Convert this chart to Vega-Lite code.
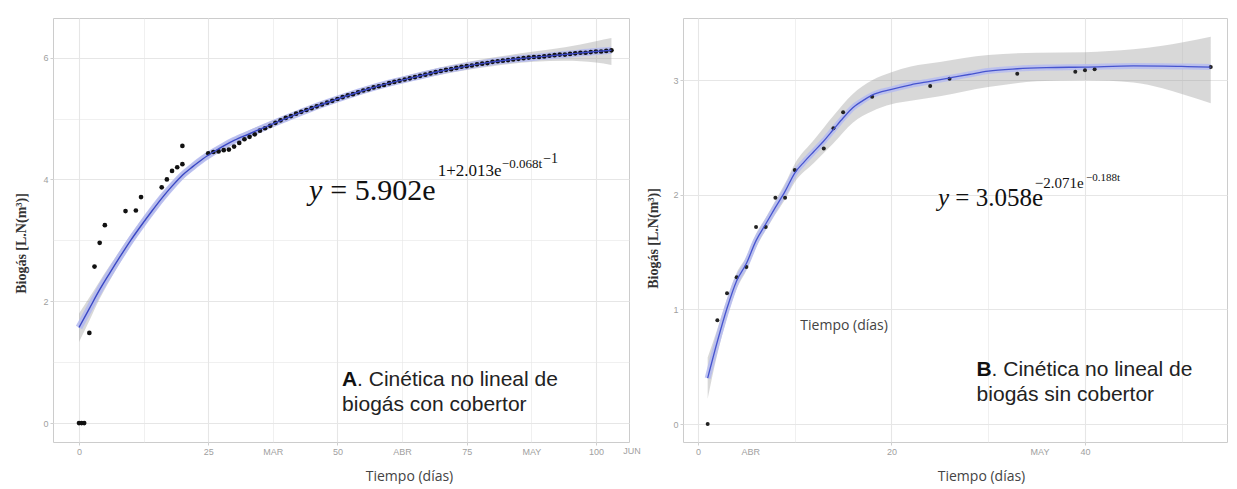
{
  "$schema": "https://vega.github.io/schema/vega-lite/v6.json",
  "background": "white",
  "padding": {"left": 13, "top": 17, "right": 0, "bottom": 0},
  "spacing": 3,
  "datasets": {
    "pointsA": [
      {"t":0,"v":0},{"t":0.5,"v":0},{"t":1,"v":0},{"t":2,"v":1.48},{"t":3,"v":2.57},{"t":4,"v":2.96},{"t":5,"v":3.25},
      {"t":9,"v":3.48},{"t":11,"v":3.49},{"t":12,"v":3.71},{"t":16,"v":3.87},{"t":17,"v":4.0},{"t":18,"v":4.14},{"t":19,"v":4.2},
      {"t":20,"v":4.25},{"t":20,"v":4.55},
      {"t":25,"v":4.43},{"t":26,"v":4.45},{"t":27,"v":4.46},{"t":28,"v":4.48},{"t":29,"v":4.49},{"t":30,"v":4.54},{"t":31,"v":4.6},
      {"t":32,"v":4.66},{"t":33,"v":4.7},{"t":34,"v":4.74},{"t":35,"v":4.8},{"t":36,"v":4.84},{"t":37,"v":4.88},{"t":38,"v":4.93},
      {"t":39,"v":4.97},{"t":40,"v":5.01},{"t":41,"v":5.04},{"t":42,"v":5.08},{"t":43,"v":5.11},{"t":44,"v":5.14},{"t":45,"v":5.17},
      {"t":46,"v":5.2},{"t":47,"v":5.23},{"t":48,"v":5.26},{"t":49,"v":5.29},{"t":50,"v":5.32},{"t":51,"v":5.35},{"t":52,"v":5.38},
      {"t":53,"v":5.4},{"t":54,"v":5.43},{"t":55,"v":5.46},{"t":56,"v":5.48},{"t":57,"v":5.51},{"t":58,"v":5.53},{"t":59,"v":5.55},
      {"t":60,"v":5.58},{"t":61,"v":5.6},{"t":62,"v":5.62},{"t":63,"v":5.64},{"t":64,"v":5.66},{"t":65,"v":5.68},{"t":66,"v":5.7},
      {"t":67,"v":5.72},{"t":68,"v":5.74},{"t":69,"v":5.76},{"t":70,"v":5.78},{"t":71,"v":5.8},{"t":72,"v":5.81},{"t":73,"v":5.83},
      {"t":74,"v":5.85},{"t":75,"v":5.86},{"t":76,"v":5.87},{"t":77,"v":5.89},{"t":78,"v":5.9},{"t":79,"v":5.91},{"t":80,"v":5.93},
      {"t":81,"v":5.94},{"t":82,"v":5.95},{"t":83,"v":5.96},{"t":84,"v":5.97},{"t":85,"v":5.98},{"t":86,"v":5.99},{"t":87,"v":6.0},
      {"t":88,"v":6.01},{"t":89,"v":6.01},{"t":90,"v":6.02},{"t":91,"v":6.03},{"t":92,"v":6.04},{"t":93,"v":6.05},{"t":94,"v":6.05},
      {"t":95,"v":6.06},{"t":96,"v":6.07},{"t":97,"v":6.08},{"t":98,"v":6.08},{"t":99,"v":6.09},{"t":100,"v":6.1},{"t":101,"v":6.1},
      {"t":102,"v":6.11},{"t":103,"v":6.12}
    ],
    "lineA": [
      {"t":0,"v":1.57},{"t":2,"v":1.88},{"t":4,"v":2.19},{"t":6,"v":2.47},{"t":8,"v":2.74},{"t":10,"v":3.0},{"t":12,"v":3.24},
      {"t":14,"v":3.47},{"t":16,"v":3.69},{"t":18,"v":3.89},{"t":20,"v":4.07},{"t":22,"v":4.21},{"t":24,"v":4.34},{"t":26,"v":4.45},
      {"t":28,"v":4.55},{"t":30,"v":4.64},{"t":33,"v":4.75},{"t":36,"v":4.86},{"t":40,"v":5.0},{"t":45,"v":5.17},{"t":50,"v":5.32},
      {"t":55,"v":5.46},{"t":60,"v":5.58},{"t":65,"v":5.68},{"t":70,"v":5.78},{"t":75,"v":5.86},{"t":80,"v":5.93},{"t":85,"v":5.98},
      {"t":90,"v":6.02},{"t":95,"v":6.06},{"t":100,"v":6.1},{"t":103,"v":6.12}
    ],
    "bandA": [
      {"t":0,"lo":1.33,"hi":1.8},{"t":2,"lo":1.68,"hi":2.06},{"t":4,"lo":2.04,"hi":2.33},{"t":6,"lo":2.35,"hi":2.59},
      {"t":8,"lo":2.64,"hi":2.84},{"t":10,"lo":2.91,"hi":3.09},{"t":14,"lo":3.39,"hi":3.55},{"t":18,"lo":3.82,"hi":3.96},
      {"t":22,"lo":4.15,"hi":4.27},{"t":26,"lo":4.4,"hi":4.5},{"t":30,"lo":4.59,"hi":4.69},{"t":40,"lo":4.95,"hi":5.05},
      {"t":50,"lo":5.27,"hi":5.37},{"t":60,"lo":5.53,"hi":5.63},{"t":70,"lo":5.72,"hi":5.84},{"t":80,"lo":5.86,"hi":6.0},
      {"t":88,"lo":5.93,"hi":6.1},{"t":94,"lo":5.95,"hi":6.17},{"t":100,"lo":5.92,"hi":6.27},{"t":103,"lo":5.88,"hi":6.32}
    ],
    "pointsB": [
      {"t":1,"v":0.0},{"t":2,"v":0.905},{"t":3,"v":1.14},{"t":4,"v":1.28},{"t":5,"v":1.37},{"t":6,"v":1.72},{"t":7,"v":1.72},
      {"t":8,"v":1.975},{"t":9,"v":1.975},{"t":10,"v":2.216},{"t":13,"v":2.405},{"t":14,"v":2.58},{"t":15,"v":2.72},
      {"t":18,"v":2.856},{"t":24,"v":2.95},{"t":26,"v":3.013},{"t":33,"v":3.057},{"t":39,"v":3.074},{"t":40,"v":3.086},
      {"t":41,"v":3.095},{"t":53,"v":3.115}
    ],
    "lineB": [
      {"t":1,"v":0.4},{"t":2,"v":0.72},{"t":3,"v":1.01},{"t":4,"v":1.25},{"t":5,"v":1.4},{"t":6,"v":1.6},{"t":7,"v":1.745},
      {"t":8,"v":1.89},{"t":9,"v":2.03},{"t":10,"v":2.19},{"t":11,"v":2.29},{"t":12,"v":2.38},{"t":13,"v":2.47},{"t":14,"v":2.57},
      {"t":15,"v":2.67},{"t":16,"v":2.76},{"t":17,"v":2.82},{"t":18,"v":2.87},{"t":20,"v":2.92},{"t":22,"v":2.96},{"t":24,"v":2.99},
      {"t":26,"v":3.02},{"t":28,"v":3.05},{"t":30,"v":3.08},{"t":33,"v":3.1},{"t":36,"v":3.11},{"t":40,"v":3.115},{"t":45,"v":3.125},
      {"t":50,"v":3.12},{"t":53,"v":3.115}
    ],
    "bandB": [
      {"t":1,"lo":0.22,"hi":0.58},{"t":2,"lo":0.61,"hi":0.83},{"t":3,"lo":0.93,"hi":1.09},{"t":4,"lo":1.18,"hi":1.32},
      {"t":5,"lo":1.34,"hi":1.46},{"t":6,"lo":1.54,"hi":1.66},{"t":7,"lo":1.69,"hi":1.8},{"t":8,"lo":1.83,"hi":1.95},
      {"t":9,"lo":1.96,"hi":2.1},{"t":10,"lo":2.11,"hi":2.27},{"t":12,"lo":2.28,"hi":2.48},{"t":14,"lo":2.45,"hi":2.69},
      {"t":16,"lo":2.63,"hi":2.88},{"t":18,"lo":2.73,"hi":3.0},{"t":20,"lo":2.79,"hi":3.07},{"t":22,"lo":2.82,"hi":3.12},
      {"t":25,"lo":2.86,"hi":3.16},{"t":30,"lo":2.94,"hi":3.22},{"t":35,"lo":2.99,"hi":3.24},{"t":40,"lo":3.0,"hi":3.245},
      {"t":45,"lo":2.98,"hi":3.27},{"t":48,"lo":2.93,"hi":3.3},{"t":50,"lo":2.88,"hi":3.33},{"t":53,"lo":2.8,"hi":3.38}
    ]
  },
  "hconcat": [
    {
      "width": 576,
      "height": 424,
      "layer": [
        {
          "data": {"name": "pointsA"},
          "mark": {"type": "circle", "opacity": 0, "size": 1},
          "encoding": {
            "x": {"field": "t", "type": "quantitative", "scale": {"domain": [-5.03, 106.4], "nice": false, "zero": false},
              "axis": {
                "values": [0, 12.5, 25, 37.5, 50, 62.5, 75, 87.5, 100],
                "labelExpr": "datum.value == 37.5 ? 'MAR' : datum.value == 62.5 ? 'ABR' : datum.value == 87.5 ? 'MAY' : datum.value == 12.5 ? '' : datum.label",
                "gridWidth": {"condition": {"test": "datum.value % 25 == 0", "value": 1.1}, "value": 0.6},
                "tickOpacity": {"condition": {"test": "datum.value % 25 == 0", "value": 1}, "value": 0},
                "labelFlush": false, "labelOverlap": false,
                "title": "Tiempo (días)", "titleX": 356, "titleY": 34, "titleBaseline": "middle", "titleAlign": "center"
              }
            },
            "y": {"field": "v", "type": "quantitative", "scale": {"domain": [-0.31, 6.65], "nice": false, "zero": false},
              "axis": {
                "values": [0, 1, 2, 3, 4, 5, 6],
                "format": "d",
                "labelExpr": "datum.value % 2 == 0 ? datum.label : ''",
                "gridWidth": {"condition": {"test": "datum.value % 2 == 0", "value": 1.1}, "value": 0.6},
                "tickOpacity": {"condition": {"test": "datum.value % 2 == 0", "value": 1}, "value": 0},
                "labelOverlap": false,
                "title": "Biogás [L.N(m³)]", "titleX": -32, "titleY": 225, "titleBaseline": "middle", "titleAlign": "center"
              }
            }
          }
        },
        {
          "data": {"name": "bandA"},
          "mark": {"type": "area", "color": "#999999", "opacity": 0.38, "interpolate": "monotone"},
          "encoding": {
            "x": {"field": "t", "type": "quantitative", "scale": {"domain": [-5.03, 106.4], "nice": false, "zero": false}},
            "y": {"field": "lo", "type": "quantitative", "scale": {"domain": [-0.31, 6.65], "nice": false, "zero": false}},
            "y2": {"field": "hi"}
          }
        },
        {
          "data": {"name": "lineA"},
          "mark": {"type": "line", "color": "#b3b9f0", "strokeWidth": 7, "opacity": 0.85, "interpolate": "monotone"},
          "encoding": {
            "x": {"field": "t", "type": "quantitative", "scale": {"domain": [-5.03, 106.4], "nice": false, "zero": false}},
            "y": {"field": "v", "type": "quantitative", "scale": {"domain": [-0.31, 6.65], "nice": false, "zero": false}}
          }
        },
        {
          "data": {"name": "pointsA"},
          "mark": {"type": "circle", "color": "#111111", "opacity": 1, "size": 22},
          "encoding": {
            "x": {"field": "t", "type": "quantitative", "scale": {"domain": [-5.03, 106.4], "nice": false, "zero": false}},
            "y": {"field": "v", "type": "quantitative", "scale": {"domain": [-0.31, 6.65], "nice": false, "zero": false}}
          }
        },
        {
          "data": {"name": "lineA"},
          "mark": {"type": "line", "color": "#3a48c4", "strokeWidth": 1.4, "interpolate": "monotone"},
          "encoding": {
            "x": {"field": "t", "type": "quantitative", "scale": {"domain": [-5.03, 106.4], "nice": false, "zero": false}},
            "y": {"field": "v", "type": "quantitative", "scale": {"domain": [-0.31, 6.65], "nice": false, "zero": false}}
          }
        },
        {
          "data": {"values": [{"t": 44.5, "v": 3.67, "txt": "y"}]},
          "mark": {"type": "text", "font": "Liberation Serif", "fontStyle": "italic", "fontSize": 30, "align": "left", "baseline": "alphabetic", "color": "#111111"},
          "encoding": {
            "x": {"field": "t", "type": "quantitative", "scale": {"domain": [-5.03, 106.4], "nice": false, "zero": false}},
            "y": {"field": "v", "type": "quantitative", "scale": {"domain": [-0.31, 6.65], "nice": false, "zero": false}},
            "text": {"field": "txt"}
          }
        },
        {
          "data": {"values": [{"t": 48.6, "v": 3.67, "txt": "= 5.902e"}]},
          "mark": {"type": "text", "font": "Liberation Serif", "fontSize": 30, "align": "left", "baseline": "alphabetic", "color": "#111111"},
          "encoding": {
            "x": {"field": "t", "type": "quantitative", "scale": {"domain": [-5.03, 106.4], "nice": false, "zero": false}},
            "y": {"field": "v", "type": "quantitative", "scale": {"domain": [-0.31, 6.65], "nice": false, "zero": false}},
            "text": {"field": "txt"}
          }
        },
        {
          "data": {"values": [{"t": 69.4, "v": 4.06, "txt": "1+2.013e"}]},
          "mark": {"type": "text", "font": "Liberation Serif", "fontSize": 17, "align": "left", "baseline": "alphabetic", "color": "#111111"},
          "encoding": {
            "x": {"field": "t", "type": "quantitative", "scale": {"domain": [-5.03, 106.4], "nice": false, "zero": false}},
            "y": {"field": "v", "type": "quantitative", "scale": {"domain": [-0.31, 6.65], "nice": false, "zero": false}},
            "text": {"field": "txt"}
          }
        },
        {
          "data": {"values": [{"t": 81.8, "v": 4.19, "txt": "−0.068t"}]},
          "mark": {"type": "text", "font": "Liberation Serif", "fontSize": 13, "align": "left", "baseline": "alphabetic", "color": "#111111"},
          "encoding": {
            "x": {"field": "t", "type": "quantitative", "scale": {"domain": [-5.03, 106.4], "nice": false, "zero": false}},
            "y": {"field": "v", "type": "quantitative", "scale": {"domain": [-0.31, 6.65], "nice": false, "zero": false}},
            "text": {"field": "txt"}
          }
        },
        {
          "data": {"values": [{"t": 89.8, "v": 4.27, "txt": "−1"}]},
          "mark": {"type": "text", "font": "Liberation Serif", "fontSize": 14, "align": "left", "baseline": "alphabetic", "color": "#111111"},
          "encoding": {
            "x": {"field": "t", "type": "quantitative", "scale": {"domain": [-5.03, 106.4], "nice": false, "zero": false}},
            "y": {"field": "v", "type": "quantitative", "scale": {"domain": [-0.31, 6.65], "nice": false, "zero": false}},
            "text": {"field": "txt"}
          }
        },
        {
          "data": {"values": [{"t": 50.9, "v": 0.607, "txt": "A"}]},
          "mark": {"type": "text", "font": "Liberation Sans", "fontWeight": "bold", "fontSize": 21, "align": "left", "baseline": "alphabetic", "color": "#111111"},
          "encoding": {
            "x": {"field": "t", "type": "quantitative", "scale": {"domain": [-5.03, 106.4], "nice": false, "zero": false}},
            "y": {"field": "v", "type": "quantitative", "scale": {"domain": [-0.31, 6.65], "nice": false, "zero": false}},
            "text": {"field": "txt"}
          }
        },
        {
          "data": {"values": [{"t": 53.8, "v": 0.607, "txt": ". Cinética no lineal de"}]},
          "mark": {"type": "text", "font": "Liberation Sans", "fontSize": 21, "align": "left", "baseline": "alphabetic", "color": "#222222"},
          "encoding": {
            "x": {"field": "t", "type": "quantitative", "scale": {"domain": [-5.03, 106.4], "nice": false, "zero": false}},
            "y": {"field": "v", "type": "quantitative", "scale": {"domain": [-0.31, 6.65], "nice": false, "zero": false}},
            "text": {"field": "txt"}
          }
        },
        {
          "data": {"values": [{"t": 50.9, "v": 0.197, "txt": "biogás con cobertor"}]},
          "mark": {"type": "text", "font": "Liberation Sans", "fontSize": 21, "align": "left", "baseline": "alphabetic", "color": "#222222"},
          "encoding": {
            "x": {"field": "t", "type": "quantitative", "scale": {"domain": [-5.03, 106.4], "nice": false, "zero": false}},
            "y": {"field": "v", "type": "quantitative", "scale": {"domain": [-0.31, 6.65], "nice": false, "zero": false}},
            "text": {"field": "txt"}
          }
        },
        {
          "data": {"values": [{"t": 107, "v": -0.45, "txt": "JUN"}]},
          "mark": {"type": "text", "font": "Liberation Sans", "fontSize": 9, "align": "center", "baseline": "middle", "color": "#a0a0a0"},
          "encoding": {
            "x": {"field": "t", "type": "quantitative", "scale": {"domain": [-5.03, 106.4], "nice": false, "zero": false}},
            "y": {"field": "v", "type": "quantitative", "scale": {"domain": [-0.31, 6.65], "nice": false, "zero": false}},
            "text": {"field": "txt"}
          }
        }
      ]
    },
    {
      "width": 544,
      "height": 424,
      "layer": [
        {
          "data": {"name": "pointsB"},
          "mark": {"type": "circle", "opacity": 0, "size": 1},
          "encoding": {
            "x": {"field": "t", "type": "quantitative", "scale": {"domain": [-1.55, 54.68], "nice": false, "zero": false},
              "axis": {
                "values": [0, 5.4, 10, 20, 30, 35.3, 40, 50],
                "labelExpr": "datum.value == 5.4 ? 'ABR' : datum.value == 35.3 ? 'MAY' : (datum.value == 10 || datum.value == 30 || datum.value == 50) ? '' : datum.label",
                "gridWidth": {"condition": {"test": "datum.value % 20 == 0", "value": 1.1}, "value": 0.6},
                "gridOpacity": {"condition": {"test": "datum.value % 10 != 0", "value": 0}, "value": 1},
                "tickOpacity": {"condition": {"test": "datum.value % 20 == 0", "value": 1}, "value": 0},
                "labelFlush": false, "labelOverlap": false,
                "title": "Tiempo (días)", "titleX": 298, "titleY": 34, "titleBaseline": "middle", "titleAlign": "center"
              }
            },
            "y": {"field": "v", "type": "quantitative", "scale": {"domain": [-0.157, 3.543], "nice": false, "zero": false},
              "axis": {
                "values": [0, 0.5, 1, 1.5, 2, 2.5, 3, 3.5],
                "format": "d",
                "labelExpr": "datum.value % 1 == 0 ? datum.label : ''",
                "gridWidth": {"condition": {"test": "datum.value % 1 == 0", "value": 1.1}, "value": 0.6},
                "tickOpacity": {"condition": {"test": "datum.value % 1 == 0", "value": 1}, "value": 0},
                "labelOverlap": false,
                "title": "Biogás [L.N(m³)]", "titleX": -30, "titleY": 220, "titleBaseline": "middle", "titleAlign": "center"
              }
            }
          }
        },
        {
          "data": {"name": "bandB"},
          "mark": {"type": "area", "color": "#999999", "opacity": 0.38, "interpolate": "monotone"},
          "encoding": {
            "x": {"field": "t", "type": "quantitative", "scale": {"domain": [-1.55, 54.68], "nice": false, "zero": false}},
            "y": {"field": "lo", "type": "quantitative", "scale": {"domain": [-0.157, 3.543], "nice": false, "zero": false}},
            "y2": {"field": "hi"}
          }
        },
        {
          "data": {"name": "lineB"},
          "mark": {"type": "line", "color": "#b6bcf0", "strokeWidth": 6, "opacity": 0.85, "interpolate": "monotone"},
          "encoding": {
            "x": {"field": "t", "type": "quantitative", "scale": {"domain": [-1.55, 54.68], "nice": false, "zero": false}},
            "y": {"field": "v", "type": "quantitative", "scale": {"domain": [-0.157, 3.543], "nice": false, "zero": false}}
          }
        },
        {
          "data": {"name": "pointsB"},
          "mark": {"type": "circle", "color": "#222222", "opacity": 1, "size": 16},
          "encoding": {
            "x": {"field": "t", "type": "quantitative", "scale": {"domain": [-1.55, 54.68], "nice": false, "zero": false}},
            "y": {"field": "v", "type": "quantitative", "scale": {"domain": [-0.157, 3.543], "nice": false, "zero": false}}
          }
        },
        {
          "data": {"name": "lineB"},
          "mark": {"type": "line", "color": "#4654cf", "strokeWidth": 1.3, "interpolate": "monotone"},
          "encoding": {
            "x": {"field": "t", "type": "quantitative", "scale": {"domain": [-1.55, 54.68], "nice": false, "zero": false}},
            "y": {"field": "v", "type": "quantitative", "scale": {"domain": [-0.157, 3.543], "nice": false, "zero": false}}
          }
        },
        {
          "data": {"values": [{"t": 24.8, "v": 1.9, "txt": "y"}]},
          "mark": {"type": "text", "font": "Liberation Serif", "fontStyle": "italic", "fontSize": 25, "align": "left", "baseline": "alphabetic", "color": "#111111"},
          "encoding": {
            "x": {"field": "t", "type": "quantitative", "scale": {"domain": [-1.55, 54.68], "nice": false, "zero": false}},
            "y": {"field": "v", "type": "quantitative", "scale": {"domain": [-0.157, 3.543], "nice": false, "zero": false}},
            "text": {"field": "txt"}
          }
        },
        {
          "data": {"values": [{"t": 26.6, "v": 1.9, "txt": "= 3.058e"}]},
          "mark": {"type": "text", "font": "Liberation Serif", "fontSize": 25, "align": "left", "baseline": "alphabetic", "color": "#111111"},
          "encoding": {
            "x": {"field": "t", "type": "quantitative", "scale": {"domain": [-1.55, 54.68], "nice": false, "zero": false}},
            "y": {"field": "v", "type": "quantitative", "scale": {"domain": [-0.157, 3.543], "nice": false, "zero": false}},
            "text": {"field": "txt"}
          }
        },
        {
          "data": {"values": [{"t": 34.8, "v": 2.06, "txt": "−2.071e"}]},
          "mark": {"type": "text", "font": "Liberation Serif", "fontSize": 15, "align": "left", "baseline": "alphabetic", "color": "#111111"},
          "encoding": {
            "x": {"field": "t", "type": "quantitative", "scale": {"domain": [-1.55, 54.68], "nice": false, "zero": false}},
            "y": {"field": "v", "type": "quantitative", "scale": {"domain": [-0.157, 3.543], "nice": false, "zero": false}},
            "text": {"field": "txt"}
          }
        },
        {
          "data": {"values": [{"t": 40.1, "v": 2.12, "txt": "−0.188t"}]},
          "mark": {"type": "text", "font": "Liberation Serif", "fontSize": 11, "align": "left", "baseline": "alphabetic", "color": "#111111"},
          "encoding": {
            "x": {"field": "t", "type": "quantitative", "scale": {"domain": [-1.55, 54.68], "nice": false, "zero": false}},
            "y": {"field": "v", "type": "quantitative", "scale": {"domain": [-0.157, 3.543], "nice": false, "zero": false}},
            "text": {"field": "txt"}
          }
        },
        {
          "data": {"values": [{"t": 15.1, "v": 0.855, "txt": "Tiempo (días)"}]},
          "mark": {"type": "text", "font": "Open Sans", "fontSize": 14, "align": "center", "baseline": "middle", "color": "#444444"},
          "encoding": {
            "x": {"field": "t", "type": "quantitative", "scale": {"domain": [-1.55, 54.68], "nice": false, "zero": false}},
            "y": {"field": "v", "type": "quantitative", "scale": {"domain": [-0.157, 3.543], "nice": false, "zero": false}},
            "text": {"field": "txt"}
          }
        },
        {
          "data": {"values": [{"t": 28.8, "v": 0.419, "txt": "B"}]},
          "mark": {"type": "text", "font": "Liberation Sans", "fontWeight": "bold", "fontSize": 21, "align": "left", "baseline": "alphabetic", "color": "#111111"},
          "encoding": {
            "x": {"field": "t", "type": "quantitative", "scale": {"domain": [-1.55, 54.68], "nice": false, "zero": false}},
            "y": {"field": "v", "type": "quantitative", "scale": {"domain": [-0.157, 3.543], "nice": false, "zero": false}},
            "text": {"field": "txt"}
          }
        },
        {
          "data": {"values": [{"t": 30.35, "v": 0.419, "txt": ". Cinética no lineal de"}]},
          "mark": {"type": "text", "font": "Liberation Sans", "fontSize": 21, "align": "left", "baseline": "alphabetic", "color": "#222222"},
          "encoding": {
            "x": {"field": "t", "type": "quantitative", "scale": {"domain": [-1.55, 54.68], "nice": false, "zero": false}},
            "y": {"field": "v", "type": "quantitative", "scale": {"domain": [-0.157, 3.543], "nice": false, "zero": false}},
            "text": {"field": "txt"}
          }
        },
        {
          "data": {"values": [{"t": 28.8, "v": 0.2, "txt": "biogás sin cobertor"}]},
          "mark": {"type": "text", "font": "Liberation Sans", "fontSize": 21, "align": "left", "baseline": "alphabetic", "color": "#222222"},
          "encoding": {
            "x": {"field": "t", "type": "quantitative", "scale": {"domain": [-1.55, 54.68], "nice": false, "zero": false}},
            "y": {"field": "v", "type": "quantitative", "scale": {"domain": [-0.157, 3.543], "nice": false, "zero": false}},
            "text": {"field": "txt"}
          }
        }
      ]
    }
  ],
  "config": {
    "view": {"stroke": "#cccccc", "strokeWidth": 1},
    "axis": {
      "domain": false,
      "labelFont": "Liberation Sans",
      "labelFontSize": 9,
      "labelColor": "#a0a0a0",
      "tickColor": "#cfcfcf",
      "tickSize": 3,
      "labelPadding": 2,
      "gridColor": "#e6e6e6"
    },
    "axisX": {"titleFont": "Open Sans", "titleFontSize": 14, "titleFontWeight": "normal", "titleColor": "#444444"},
    "axisY": {"titleFont": "Liberation Serif", "titleFontSize": 14, "titleFontWeight": "bold", "titleColor": "#333333"}
  }
}
